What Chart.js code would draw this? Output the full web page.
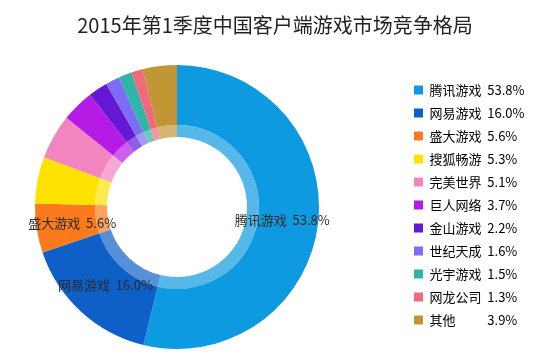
<!DOCTYPE html>
<html>
<head>
<meta charset="utf-8">
<script src="https://cdn.jsdelivr.net/npm/chart.js@4/dist/chart.umd.min.js"></script>
<style>
  html, body { margin: 0; padding: 0; background: #fff; }
  #wrap { width: 550px; height: 354px; }
</style>
</head>
<body>
<div id="wrap"><canvas id="share"></canvas></div>
<script>
const companies = ["腾讯游戏", "网易游戏", "盛大游戏", "搜狐畅游", "完美世界", "巨人网络", "金山游戏", "世纪天成", "光宇游戏", "网龙公司", "其他"];
const shares = [53.8, 16.0, 5.6, 5.3, 5.1, 3.7, 2.2, 1.6, 1.5, 1.3, 3.9];
const colors = ["#0d9ae0", "#0f5fc8", "#fb7a1c", "#ffe300", "#f285c0", "#b61be6", "#6418d6", "#7b6ef5", "#2fb5a5", "#f06a7e", "#c29535"];

const cjk = '"Noto Sans CJK SC", "Noto Sans", sans-serif';

// put the ring and the legend where they sit in the picture
const placeBoxes = {
  id: "placeBoxes",
  afterLayout(chart) {
    const a = chart.chartArea;
    a.left = 35;
    a.right = 319;
    a.width = 284;
    const lg = chart.legend;
    const w = lg.right - lg.left;
    const h = lg.bottom - lg.top;
    lg.left = 404;
    lg.right = 404 + w;
    lg.top = 205 - h / 2;
    lg.bottom = lg.top + h;
  },
};

// name + share written on the big slices
const sliceText = {
  id: "sliceText",
  afterDatasetsDraw(chart) {
    const outer = chart.getDatasetMeta(0).data;
    const inner = chart.getDatasetMeta(1).data;
    const ctx = chart.ctx;
    ctx.save();
    ctx.font = "13px " + cjk;
    ctx.fillStyle = "#2b2b2b";
    ctx.textAlign = "center";
    ctx.textBaseline = "middle";
    outer.forEach((arc, i) => {
      if (shares[i] < 5.5) return;
      const p = arc.getProps(["x", "y", "startAngle", "endAngle", "outerRadius"]);
      const r = (p.outerRadius + inner[i].innerRadius) / 2;
      const ang = (p.startAngle + p.endAngle) / 2;
      ctx.fillText(companies[i] + "  " + shares[i].toFixed(1) + "%", p.x + Math.cos(ang) * r, p.y + Math.sin(ang) * r);
    });
    ctx.restore();
  },
};

new Chart(document.getElementById("share"), {
  type: "doughnut",
  data: {
    labels: companies,
    datasets: [
      {
        data: shares,
        backgroundColor: colors,
        borderWidth: 0,
        weight: 60,
      },
      {
        data: shares,
        backgroundColor: colors.map((c) => c + "b3"),
        borderWidth: 0,
        weight: 12,
      },
    ],
  },
  options: {
    responsive: true,
    maintainAspectRatio: false,
    animation: false,
    cutout: "49.3%",
    layout: {
      padding: { top: 1, bottom: 5 },
    },
    plugins: {
      title: {
        display: true,
        text: "2015年第1季度中国客户端游戏市场竞争格局",
        color: "#222",
        padding: { top: 12, bottom: 28 },
        font: { family: cjk, size: 20, weight: "normal" },
      },
      legend: {
        position: "right",
        labels: {
          boxWidth: 9,
          boxHeight: 9,
          padding: 10,
          color: "#333",
          font: { family: cjk, size: 13 },
          generateLabels(chart) {
            return companies.map((name, i) => ({
              // pad short names with ideographic spaces so the shares line up
              text: name.padEnd(4, "\u3000") + "  " + shares[i].toFixed(1) + "%",
              fillStyle: colors[i],
              strokeStyle: colors[i],
              lineWidth: 0,
              hidden: false,
              index: i,
            }));
          },
        },
      },
      tooltip: { enabled: false },
    },
  },
  plugins: [placeBoxes, sliceText],
});
</script>
</body>
</html>
